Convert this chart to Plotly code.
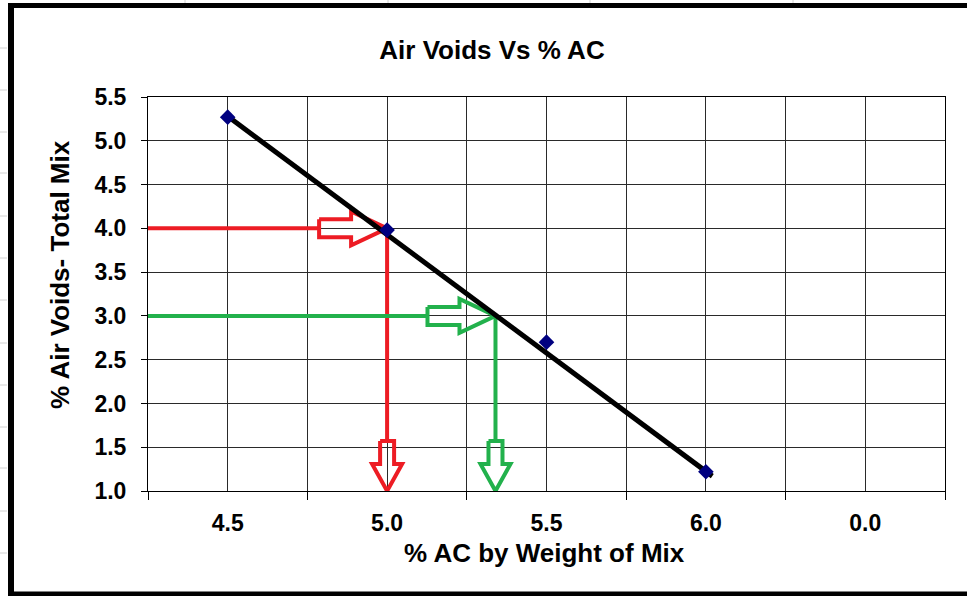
import plotly.graph_objects as go

# ---------------- data ----------------
categories = ["4.5", "5.0", "5.5", "6.0", "0.0"]
ac_values = [4.5, 5.0, 5.5, 6.0]
air_voids = [5.27, 3.98, 2.70, 1.22]
trend_ac = [4.5, 6.02]
trend_voids = [5.28, 1.17]
target_voids = [4.0, 3.0]
target_ac = [5.0, 5.34]
arrow_colors = ["#ED1C24", "#22B14C"]
y_ticks = [1.0, 1.5, 2.0, 2.5, 3.0, 3.5, 4.0, 4.5, 5.0, 5.5]

# ---------------- geometry ----------------
W, H = 967, 596
L, R, T, B = 148, 945, 97, 491
Y_MIN, Y_MAX = 1.0, 5.5
CAT_PX = (R - L) / len(categories)
UNIT_PX = (B - T) / (Y_MAX - Y_MIN)


def ac_to_pos(ac):
    return (ac - 4.5) / 0.5


def px_x(px):
    return (px - L) / (R - L)


def px_y(py):
    return (B - py) / (B - T)


fig = go.Figure()

# arrows
for v, ac, col in zip(target_voids, target_ac, arrow_colors):
    xt = ac_to_pos(ac)
    dh, ds = 36 / CAT_PX, 32 / CAT_PX
    hs, hh = 9 / UNIT_PX, 17 / UNIT_PX
    xs0 = xt - dh - ds
    # horizontal lead line
    fig.add_trace(go.Scatter(x=[-0.5, xs0], y=[v, v], mode="lines",
                             line=dict(color=col, width=4), hoverinfo="skip"))
    # hollow right arrow
    fig.add_trace(go.Scatter(
        x=[xs0, xt - dh, xt - dh, xt, xt - dh, xt - dh, xs0, xs0],
        y=[v + hs, v + hs, v + hh, v, v - hh, v - hs, v - hs, v + hs],
        mode="lines", line=dict(color=col, width=4), hoverinfo="skip"))
    # vertical line down
    vh, vs = 27 / UNIT_PX, 23 / UNIT_PX
    ws, wh = 7 / CAT_PX, 15 / CAT_PX
    ys0 = Y_MIN + vh + vs
    fig.add_trace(go.Scatter(x=[xt, xt], y=[v, ys0], mode="lines",
                             line=dict(color=col, width=4), hoverinfo="skip"))
    fig.add_trace(go.Scatter(
        x=[xt - ws, xt - ws, xt - wh, xt, xt + wh, xt + ws, xt + ws, xt - ws],
        y=[ys0, Y_MIN + vh, Y_MIN + vh, Y_MIN, Y_MIN + vh, Y_MIN + vh, ys0, ys0],
        mode="lines", line=dict(color=col, width=4), hoverinfo="skip"))

# trend line
fig.add_trace(go.Scatter(x=[ac_to_pos(a) for a in trend_ac], y=trend_voids,
                         mode="lines", line=dict(color="black", width=5),
                         hoverinfo="skip"))
# data points
fig.add_trace(go.Scatter(x=[ac_to_pos(a) for a in ac_values], y=air_voids,
                         mode="markers",
                         marker=dict(symbol="diamond", size=12, color="#000080")))

FONT = "Liberation Sans, Arial, sans-serif"
GRID = "#2a2a2a"

fig.update_layout(
    width=W, height=H,
    margin=dict(l=L, r=W - R, t=T, b=H - B, pad=0),
    paper_bgcolor="white", plot_bgcolor="white",
    showlegend=False,
    font=dict(family=FONT, color="black"),
    title=dict(text="Air Voids Vs % AC", x=492 / W, xref="container", xanchor="center",
               y=1 - 50 / H, yref="container", yanchor="middle",
               font=dict(size=26, weight="bold", family=FONT, color="black")),
    xaxis=dict(range=[-0.5, len(categories) - 0.5], tickmode="array",
               tickvals=list(range(len(categories))), ticktext=categories,
               ticks="", ticklabelstandoff=11, showgrid=True, gridcolor=GRID, gridwidth=1,
               showline=True, linecolor="black", linewidth=1, mirror=True,
               zeroline=False,
               tickfont=dict(size=23, weight="bold", family=FONT, color="black"),
               minor=dict(tickmode="array",
                          tickvals=[i - 0.5 for i in range(len(categories) + 1)],
                          ticks="outside", ticklen=8, tickcolor="black", tickwidth=1,
                          showgrid=True, gridcolor=GRID, gridwidth=1)),
    yaxis=dict(range=[Y_MIN, Y_MAX], tickmode="array", tickvals=y_ticks,
               ticktext=[f"{t:.1f}" for t in y_ticks],
               ticks="outside", ticklen=6, tickcolor="black", ticklabelstandoff=10,
               showgrid=True, gridcolor=GRID, gridwidth=1,
               showline=True, linecolor="black", linewidth=1, mirror=True,
               zeroline=False,
               tickfont=dict(size=23, weight="bold", family=FONT, color="black")),
)

fig.add_annotation(text="% AC by Weight of Mix", xref="paper", yref="paper",
                   x=px_x(544), y=px_y(553), xanchor="center", yanchor="middle",
                   showarrow=False,
                   font=dict(size=26, weight="bold", family=FONT, color="black"))
fig.add_annotation(text="% Air Voids- Total Mix", xref="paper", yref="paper",
                   x=px_x(60), y=px_y(275), xanchor="center", yanchor="middle",
                   textangle=-90, showarrow=False,
                   font=dict(size=26, weight="bold", family=FONT, color="black"))

# outer chart frame
frame = [
    (11, 4, 11, 596, 6),
    (8, 5.5, 967, 5.5, 5),
    (8, 594, 967, 594, 5),
]
for x0, y0, x1, y1, w in frame:
    fig.add_shape(type="line", xref="paper", yref="paper",
                  x0=px_x(x0), y0=px_y(y0), x1=px_x(x1), y1=px_y(y1),
                  line=dict(color="black", width=w), layer="above")

# faint spreadsheet cell lines outside the frame
for ry in [48, 90, 132, 173, 216, 258, 300, 343, 385, 427, 468, 511, 553]:
    fig.add_shape(type="line", xref="paper", yref="paper",
                  x0=px_x(0), y0=px_y(ry), x1=px_x(7), y1=px_y(ry),
                  line=dict(color="#d0d0d0", width=1))
for cx in [185, 388, 590, 793]:
    fig.add_shape(type="line", xref="paper", yref="paper",
                  x0=px_x(cx), y0=px_y(0), x1=px_x(cx), y1=px_y(3),
                  line=dict(color="#d0d0d0", width=1))

fig.write_html(
    "out.html",
    config={"displayModeBar": False},
    post_script="document.body.style.margin='0';document.body.style.overflow='hidden';",
)
